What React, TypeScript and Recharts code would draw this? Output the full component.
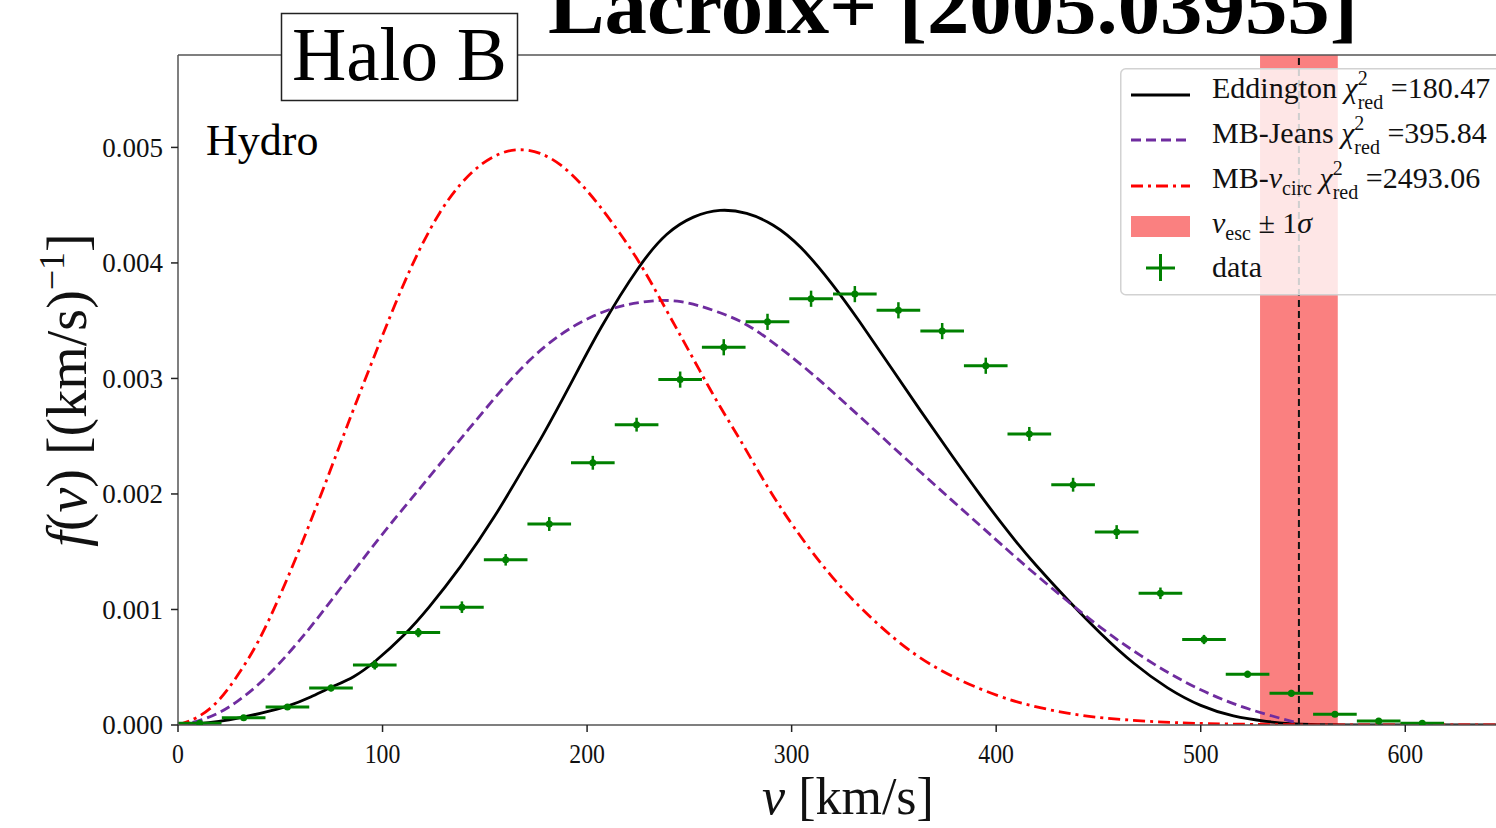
import React from 'react';
import {
  ComposedChart, Line, Scatter, XAxis, YAxis, ErrorBar, ReferenceArea, ReferenceLine, Legend,
} from 'recharts';

const FONT = '"Liberation Serif", "DejaVu Serif", "Times New Roman", serif';

// ---------- data ----------
const xTicks = [0, 100, 200, 300, 400, 500, 600];
const yTicks = [0, 0.001, 0.002, 0.003, 0.004, 0.005];

// Eddington (black solid)
const eddV = [0, 10, 20, 30, 40, 54, 65, 75, 86, 96, 111, 122, 138, 155, 171, 177, 192, 206, 226, 239, 252, 265, 278, 291, 304, 320, 333, 348, 363, 378, 393, 402, 410, 418, 435, 451, 467, 484, 500, 516, 532, 548, 600, 660];
const eddF = [0, 0.00001, 0.00003, 0.00006, 0.0001, 0.00016, 0.00024, 0.00033, 0.00041, 0.00054, 0.00078, 0.001, 0.00136, 0.0018, 0.00229, 0.00246, 0.00295, 0.00343, 0.004, 0.00427, 0.00441, 0.00447, 0.00444, 0.00434, 0.00416, 0.00382, 0.0035, 0.00311, 0.00272, 0.00234, 0.00197, 0.00176, 0.00158, 0.00141, 0.00108, 0.00079, 0.00053, 0.00031, 0.00016, 0.00007, 0.00003, 0, 0, 0];

// MB-Jeans (purple dashed)
const jeansV = [0, 10, 20, 29, 39, 49, 59, 69, 78, 88, 98, 108, 117, 122, 143, 158, 172, 187, 202, 216, 226, 236, 246, 255, 265, 275, 285, 294, 304, 314, 319, 334, 348, 363, 378, 392, 402, 418, 435, 451, 467, 484, 500, 516, 532, 547];
const jeansF = [0, 0.00003, 0.0001, 0.0002, 0.00034, 0.00052, 0.00072, 0.00094, 0.00115, 0.00138, 0.00161, 0.00183, 0.00202, 0.00213, 0.00258, 0.0029, 0.00317, 0.00339, 0.00354, 0.00363, 0.00366, 0.00368, 0.00367, 0.00363, 0.00357, 0.0035, 0.00339, 0.00327, 0.00313, 0.00298, 0.0029, 0.00266, 0.00243, 0.00219, 0.00195, 0.00173, 0.00157, 0.00132, 0.00107, 0.00084, 0.00064, 0.00045, 0.0003, 0.00018, 0.00009, 0.00002];

// MB-v_circ (red dash-dot)
const circV = [0, 10, 20, 29, 39, 49, 59, 69, 78, 87, 99, 109, 118, 128, 138, 148, 158, 167, 177, 187, 197, 206, 216, 226, 236, 246, 255, 265, 275, 286, 300, 320, 340, 360, 380, 402, 418, 435, 451, 475, 500, 550, 600, 660];
const circF = [0, 0.00006, 0.0002, 0.00042, 0.0007, 0.00108, 0.0015, 0.00195, 0.00237, 0.00279, 0.00333, 0.00377, 0.00412, 0.00445, 0.00469, 0.00486, 0.00496, 0.00499, 0.00496, 0.00486, 0.00469, 0.0045, 0.00426, 0.004, 0.00368, 0.00336, 0.00307, 0.00275, 0.00247, 0.00212, 0.00173, 0.00126, 0.0009, 0.0006, 0.0004, 0.00024, 0.00016, 0.0001, 0.00006, 0.00003, 0.00001, 0, 0, 0];

// data histogram
const binCenters = [10.6, 32.1, 53.5, 74.8, 96.2, 117.5, 138.8, 160.2, 181.5, 202.8, 224.2, 245.5, 266.8, 288.2, 309.5, 330.9, 352.2, 373.6, 394.9, 416.2, 437.6, 458.9, 480.3, 501.6, 522.9, 544.3, 565.6, 587.0, 608.3];
const binValues = [0.000015, 0.000063, 0.000156, 0.00032, 0.00052, 0.0008, 0.00102, 0.00143, 0.00174, 0.00227, 0.0026, 0.00299, 0.00327, 0.00349, 0.00369, 0.00373, 0.00359, 0.00341, 0.00311, 0.00252, 0.00208, 0.00167, 0.00114, 0.00074, 0.00044, 0.000274, 0.000093, 0.000035, 0.000015];
const binErr = [0.00001, 0.00002, 0.00002, 0.00003, 0.00004, 0.00004, 0.00005, 0.00005, 0.00006, 0.00006, 0.00006, 0.00007, 0.00007, 0.00007, 0.00007, 0.00007, 0.00007, 0.00007, 0.00007, 0.00006, 0.00006, 0.00006, 0.00005, 0.00004, 0.00003, 0.00003, 0.00002, 0.00001, 0.00001];
const binHalfWidth = 10.67;

const vEsc = 548;
const vEscLow = 529;
const vEscHigh = 567;

const chiEdd = '180.47';
const chiJeans = '395.84';
const chiCirc = '2493.06';

// ---------- tables ----------
const eddData = eddV.map((v, i) => ({ v, f: eddF[i] }));
const jeansData = jeansV.map((v, i) => ({ v, f: jeansF[i] }));
const circData = circV.map((v, i) => ({ v, f: circF[i] }));
const histData = binCenters.map((v, i) => ({ v, f: binValues[i], xe: binHalfWidth, ye: binErr[i] }));

const GREEN = '#008000';
const PURPLE = '#6f2c9f';
const RED = '#ff0000';
const BAND = '#fa8080';
const LW = 2.8;
const PURPLE_DASH = '10 5';
const RED_DASH = '12 5 3 5';

const XTick = (props: any) => {
  const { x, y, payload } = props;
  return (
    <g transform={`translate(${x},${y})`}>
      <text textAnchor="middle" dy="0.71em" fontSize={27} fontFamily={FONT} fill="#111" transform="scale(0.88,1)">
        {payload.value}
      </text>
    </g>
  );
};

const YTick = (props: any) => {
  const { x, y, payload } = props;
  return (
    <text x={x} y={y} textAnchor="end" dy="0.35em" fontSize={27} fontFamily={FONT} fill="#111">
      {Number(payload.value).toFixed(3)}
    </text>
  );
};

const Chi = ({ val }: { val: string }) => (
  <>
    <tspan fontStyle="italic">χ</tspan>
    <tspan fontSize={20} dy={-13}>2</tspan>
    <tspan fontSize={20} dx={-10} dy={24}>red</tspan>
    <tspan dy={-11}>{` =${val}`}</tspan>
  </>
);

const LegendBox = () => (
  <svg width={400} height={228} style={{ display: 'block' }}>
    <rect x={0.75} y={0.75} width={420} height={226} rx={5} ry={5} fill="rgba(255,255,255,0.8)" stroke="#d2d2d2" strokeWidth={1.5} />
    <g fontFamily={FONT} fontSize={30} fill="#111">
      <line x1={11} y1={27} x2={70} y2={27} stroke="#000" strokeWidth={LW} />
      <text x={92} y={30}>Eddington <Chi val={chiEdd} /></text>

      <line x1={11} y1={72} x2={70} y2={72} stroke={PURPLE} strokeWidth={LW} strokeDasharray={PURPLE_DASH} />
      <text x={92} y={75}>MB-Jeans <Chi val={chiJeans} /></text>

      <line x1={11} y1={118} x2={70} y2={118} stroke={RED} strokeWidth={LW} strokeDasharray={RED_DASH} />
      <text x={92} y={120}>
        MB-<tspan fontStyle="italic">v</tspan>
        <tspan fontSize={20} dy={7}>circ</tspan>
        <tspan dy={-7}> </tspan>
        <Chi val={chiCirc} />
      </text>

      <rect x={11} y={148} width={59} height={21} fill={BAND} />
      <text x={92} y={165}>
        <tspan fontStyle="italic">v</tspan>
        <tspan fontSize={20} dy={7}>esc</tspan>
        <tspan dy={-7}> ± 1</tspan>
        <tspan fontStyle="italic">σ</tspan>
      </text>

      <line x1={26} y1={200} x2={55} y2={200} stroke={GREEN} strokeWidth={3} />
      <line x1={40.5} y1={186} x2={40.5} y2={213} stroke={GREEN} strokeWidth={3} />
      <text x={92} y={209}>data</text>
    </g>
  </svg>
);

const Dot = (props: any) => {
  const { cx, cy } = props;
  return <circle cx={cx} cy={cy} r={3.5} fill={GREEN} />;
};

export default function App() {
  return (
    <div style={{ position: 'absolute', left: 0, top: 0, width: 1496, height: 828, overflow: 'hidden', background: '#fff' }}>
      <ComposedChart
        width={1600}
        height={828}
        margin={{ top: 55, right: 72, left: 78, bottom: 43 }}
        style={{ position: 'absolute', left: 0, top: 0 }}
      >
        <XAxis
          type="number"
          dataKey="v"
          domain={[0, 660]}
          ticks={xTicks}
          allowDataOverflow
          height={60}
          tickSize={7}
          tickMargin={12}
          tick={<XTick />}
          axisLine={{ stroke: '#555', strokeWidth: 1.5 }}
          tickLine={{ stroke: '#222', strokeWidth: 1.5 }}
        />
        <YAxis
          type="number"
          dataKey="f"
          domain={[0, 0.0058]}
          ticks={yTicks}
          allowDataOverflow
          width={100}
          tickSize={7}
          tickMargin={8}
          tick={<YTick />}
          axisLine={{ stroke: '#555', strokeWidth: 1.5 }}
          tickLine={{ stroke: '#222', strokeWidth: 1.5 }}
        />
        <ReferenceArea x1={vEscLow} x2={vEscHigh} fill={BAND} fillOpacity={1} stroke="none" />
        <ReferenceLine y={0.0058} stroke="#555" strokeWidth={1.5} />
        <Line data={eddData} dataKey="f" type="basis" stroke="#000" strokeWidth={LW} dot={false} isAnimationActive={false} name="Eddington" />
        <Line data={jeansData} dataKey="f" type="basis" stroke={PURPLE} strokeWidth={LW} strokeDasharray={PURPLE_DASH} dot={false} isAnimationActive={false} name="MB-Jeans" />
        <Line data={circData} dataKey="f" type="basis" stroke={RED} strokeWidth={LW} strokeDasharray={RED_DASH} dot={false} isAnimationActive={false} name="MB-vcirc" />
        <ReferenceLine x={vEsc} stroke="#111" strokeWidth={2} strokeDasharray="7 4" />
        <Scatter data={histData} dataKey="f" shape={<Dot />} isAnimationActive={false} name="data">
          <ErrorBar dataKey="xe" direction="x" width={0} stroke={GREEN} strokeWidth={3} isAnimationActive={false} />
          <ErrorBar dataKey="ye" direction="y" width={0} stroke={GREEN} strokeWidth={2.5} isAnimationActive={false} />
        </Scatter>
        <Legend
          layout="horizontal"
          verticalAlign="middle"
          align="center"
          wrapperStyle={{ left: 1120, top: 68, width: 420, height: 228, position: 'absolute' }}
          content={() => <LegendBox />}
        />
      </ComposedChart>

      <svg width={1496} height={828} style={{ position: 'absolute', left: 0, top: 0, pointerEvents: 'none' }}>
        <text x={548} y={33} fontFamily={FONT} fontWeight="bold" fontSize={80} fill="#000" textLength={810} lengthAdjust="spacingAndGlyphs">
          Lacroix+ [2005.03955]
        </text>
        <rect x={281.5} y={13.5} width={236} height={87} fill="#fff" stroke="#222" strokeWidth={1.5} />
        <text x={292} y={80} fontFamily={FONT} fontSize={76} fill="#000" textLength={215} lengthAdjust="spacingAndGlyphs">
          Halo B
        </text>
        <text x={206} y={155} fontFamily={FONT} fontSize={44} fill="#000">Hydro</text>

        <text x={848} y={814} textAnchor="middle" fontFamily={FONT} fontSize={52} fill="#111">
          <tspan fontStyle="italic">v</tspan> [km/s]
        </text>
        <text transform="translate(86,390) rotate(-90)" textAnchor="middle" fontFamily={FONT} fontSize={56} fill="#111">
          <tspan fontStyle="italic">f</tspan>(<tspan fontStyle="italic">v</tspan>) [(km/s)<tspan fontSize={36} dy={-22}>−1</tspan><tspan dy={22}>]</tspan>
        </text>
      </svg>
    </div>
  );
}
